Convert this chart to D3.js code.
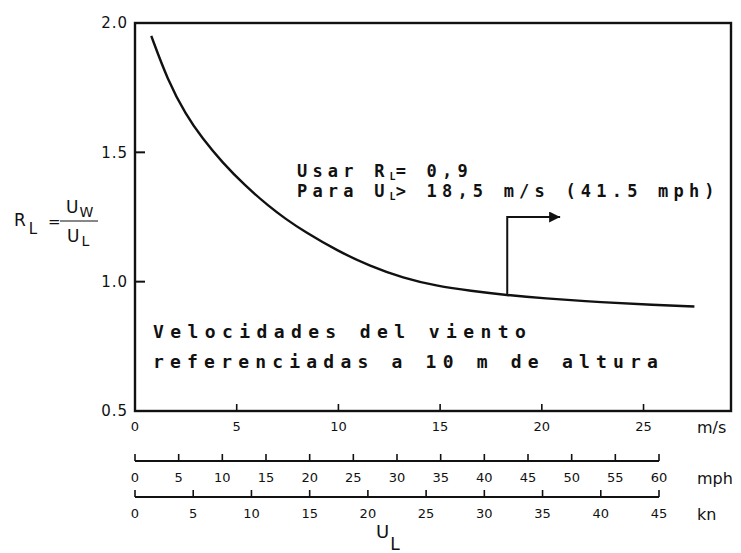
<!DOCTYPE html>
<html>
<head>
<meta charset="utf-8">
<title>RL vs UL</title>
<script src="https://cdnjs.cloudflare.com/ajax/libs/d3/7.8.5/d3.min.js"></script>
<style>
  body { margin: 0; background: #fff; }
  .tick-lbl { font-family: "DejaVu Sans", sans-serif; font-size: 13px; fill: #111; }
  .ylbl { font-family: "DejaVu Sans", sans-serif; font-size: 15px; fill: #111; }
  .unit { font-family: "DejaVu Sans", sans-serif; font-size: 16px; fill: #111; }
  .note { font-family: "DejaVu Sans Mono", monospace; font-weight: bold; fill: #111; }
</style>
</head>
<body>
<script>
// curve R_L vs U_L (m/s)
var ulValues = [0.8, 1.6, 2.5, 3.3, 4.3, 5.4, 6.6, 7.4, 8.3, 10, 11.5, 13.2, 14.8, 16.5, 18.3, 20, 23, 25.5, 27.5];
var rlValues = [1.95, 1.78, 1.645, 1.555, 1.46, 1.372, 1.29, 1.243, 1.195, 1.117, 1.062, 1.013, 0.984, 0.964, 0.948, 0.936, 0.92, 0.91, 0.904];

var yTicks = [0.5, 1.0, 1.5, 2.0];
var msTicks = [0, 5, 10, 15, 20, 25];
var mphTicks = [0, 5, 10, 15, 20, 25, 30, 35, 40, 45, 50, 55, 60];
var knTicks = [0, 5, 10, 15, 20, 25, 30, 35, 40, 45];

// arrow: from the curve at U_L = 18.3 up to R = 1.25, then right to U_L = 20.9
var arrowX = 18.3, arrowTopR = 1.25, arrowEnd = 20.9;

var W = 741, H = 553;
var svg = d3.select("body").append("svg").attr("width", W).attr("height", H);

var x = d3.scaleLinear().domain([0, 29.3]).range([135, 731]);
var y = d3.scaleLinear().domain([0.5, 2.0]).range([411, 23]);
var xMph = d3.scaleLinear().domain([0, 60]).range([135, 659]);
var xKn = d3.scaleLinear().domain([0, 45]).range([135, 659]);

// frame
svg.append("rect")
  .attr("x", x(0)).attr("y", y(2.0))
  .attr("width", x(29.3) - x(0)).attr("height", y(0.5) - y(2.0))
  .attr("fill", "none").attr("stroke", "#111").attr("stroke-width", 2.4);

// y ticks (inside)
svg.selectAll(".ytick").data(yTicks.filter(function(d) { return d > 0.5 && d < 2.0; }))
  .enter().append("line")
  .attr("x1", x(0)).attr("x2", x(0) + 10)
  .attr("y1", function(d) { return y(d); }).attr("y2", function(d) { return y(d); })
  .attr("stroke", "#111").attr("stroke-width", 2);

svg.selectAll(".ylab").data(yTicks).enter().append("text")
  .attr("class", "ylbl")
  .attr("x", 128).attr("y", function(d) { return y(d); })
  .attr("dy", "0.36em").attr("text-anchor", "end")
  .attr("letter-spacing", 1)
  .text(function(d) { return d.toFixed(1); });

// m/s axis ticks (inside)
svg.selectAll(".xtick").data(msTicks.filter(function(d) { return d > 0; }))
  .enter().append("line")
  .attr("x1", function(d) { return x(d); }).attr("x2", function(d) { return x(d); })
  .attr("y1", y(0.5)).attr("y2", y(0.5) - 7)
  .attr("stroke", "#111").attr("stroke-width", 1.6);

svg.selectAll(".xlab").data(msTicks).enter().append("text")
  .attr("class", "tick-lbl")
  .attr("x", function(d) { return x(d); }).attr("y", 431)
  .attr("text-anchor", "middle")
  .text(function(d) { return d; });

svg.append("text").attr("class", "unit").attr("x", 697).attr("y", 433).text("m/s");

// secondary scales
function drawScale(scale, ticks, yLine, yText, unit) {
  var r = scale.range();
  svg.append("line")
    .attr("x1", r[0]).attr("x2", r[1]).attr("y1", yLine).attr("y2", yLine)
    .attr("stroke", "#111").attr("stroke-width", 2);
  svg.selectAll(null).data(ticks).enter().append("line")
    .attr("x1", function(d) { return scale(d); }).attr("x2", function(d) { return scale(d); })
    .attr("y1", yLine).attr("y2", yLine - 7)
    .attr("stroke", "#111").attr("stroke-width", 1.6);
  svg.selectAll(null).data(ticks).enter().append("text")
    .attr("class", "tick-lbl")
    .attr("x", function(d) { return scale(d); }).attr("y", yText)
    .attr("text-anchor", "middle")
    .text(function(d) { return d; });
  svg.append("text").attr("class", "unit").attr("x", 697).attr("y", yText + 2).text(unit);
}
drawScale(xMph, mphTicks, 461, 482, "mph");
drawScale(xKn, knTicks, 497, 518, "kn");

// U_L label
var ul = svg.append("text").attr("class", "unit").attr("x", 376).attr("y", 538)
  .style("font-size", "18px");
ul.append("tspan").text("U");
ul.append("tspan").attr("dy", 12).attr("dx", 1).style("font-size", "17px").text("L");

// y label R_L = U_W / U_L
var rl = svg.append("text").attr("class", "unit").attr("x", 14).attr("y", 226).style("font-size", "17px");
rl.append("tspan").text("R");
rl.append("tspan").attr("dx", 3).attr("dy", 8).style("font-size", "15px").text("L");
svg.append("text").attr("class", "unit").attr("x", 48).attr("y", 227).style("font-size", "15px").text("=");
svg.append("line").attr("x1", 60).attr("x2", 98).attr("y1", 221).attr("y2", 221)
  .attr("stroke", "#111").attr("stroke-width", 1.2);
var num = svg.append("text").attr("class", "unit").attr("x", 66).attr("y", 213).style("font-size", "17px");
num.append("tspan").text("U");
num.append("tspan").attr("dx", 1).attr("dy", 4).style("font-size", "14px").text("W");
var den = svg.append("text").attr("class", "unit").attr("x", 67).attr("y", 242).style("font-size", "17px");
den.append("tspan").text("U");
den.append("tspan").attr("dx", 2).attr("dy", 4).style("font-size", "14px").text("L");

// curve
var pts = ulValues.map(function(v, i) { return [v, rlValues[i]]; });
var line = d3.line()
  .x(function(d) { return x(d[0]); })
  .y(function(d) { return y(d[1]); })
  .curve(d3.curveBasis);
svg.append("path").attr("d", line(pts))
  .attr("fill", "none").attr("stroke", "#111").attr("stroke-width", 2.4);

// arrow
var baseR = d3.scaleLinear().domain(ulValues).range(rlValues)(arrowX);
svg.append("defs").append("marker")
  .attr("id", "ah").attr("viewBox", "0 0 10 10").attr("refX", 10).attr("refY", 5)
  .attr("markerUnits", "userSpaceOnUse").attr("markerWidth", 26).attr("markerHeight", 11)
  .attr("orient", "auto")
  .append("path").attr("d", "M0,0 L10,5 L0,10 Z").attr("fill", "#111");
svg.append("path")
  .attr("d", "M" + x(arrowX) + "," + y(baseR) + " L" + x(arrowX) + "," + y(arrowTopR) +
             " L" + x(arrowEnd) + "," + y(arrowTopR))
  .attr("fill", "none").attr("stroke", "#111").attr("stroke-width", 2)
  .attr("marker-end", "url(#ah)");

// notes
var n1 = svg.append("text").attr("class", "note").attr("x", 297).attr("y", 177)
  .style("font-size", "17px").attr("letter-spacing", 5.2);
n1.append("tspan").text("Usar R");
n1.append("tspan").attr("dy", 3).style("font-size", "10px").attr("letter-spacing", 0).text("L");
n1.append("tspan").attr("dy", -3).text("= 0,9");

var n2 = svg.append("text").attr("class", "note").attr("x", 297).attr("y", 197)
  .style("font-size", "17px").attr("letter-spacing", 5.2);
n2.append("tspan").text("Para U");
n2.append("tspan").attr("dy", 3).style("font-size", "10px").attr("letter-spacing", 0).text("L");
n2.append("tspan").attr("dy", -3).text("> 18,5 m/s (41.5 mph)");

svg.append("text").attr("class", "note").attr("x", 153).attr("y", 338)
  .style("font-size", "18px").attr("letter-spacing", 6.4)
  .text("Velocidades del viento");
svg.append("text").attr("class", "note").attr("x", 153).attr("y", 368)
  .style("font-size", "18px").attr("letter-spacing", 6.2)
  .text("referenciadas a 10 m de altura");
</script>
</body>
</html>
